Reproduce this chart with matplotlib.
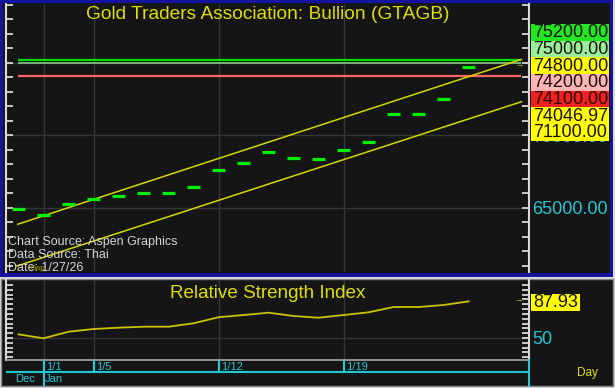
import matplotlib
matplotlib.use("Agg")
import matplotlib.pyplot as plt
from matplotlib.patches import Rectangle
import numpy as np

plt.rcParams['font.family'] = ['Liberation Sans', 'DejaVu Sans']

# ---------------- data ----------------
dates = ['12/31', '1/1', '1/2', '1/5', '1/6', '1/7', '1/8', '1/9', '1/12', '1/13',
         '1/14', '1/15', '1/16', '1/19', '1/20', '1/21', '1/22', '1/23', '1/26']
closes = [64900, 64500, 65250, 65600, 65800, 66000, 66000, 66400, 67600, 68100,
          68850, 68400, 68350, 69000, 69500, 71450, 71450, 72500, 74700]
rsi = [53.8, 49.7, 56.5, 59.3, 60.7, 61.7, 61.7, 65.2, 71.5, 73.8,
       76.2, 72.8, 71.0, 73.8, 76.6, 82.1, 82.1, 84.2, 87.93]
upper_x = [-0.03, 20.06]
upper_y = [63860, 75200]
lower_x = [-0.06, 20.12]
lower_y = [60980, 72310]
level_values = [75200, 75000, 74100]
level_colors = ['#00dd00', '#88c888', '#ff6464']
label_texts = ['75200.00', '75000.00', '74800.00', '74200.00', '74100.00', '74046.97', '71100.00']
label_colors = ['#22e622', '#99ee99', '#ffff00', '#ffb4b4', '#ee2020', '#ffff00', '#ffff00']
price_ticks = [65000, 70000, 75000]
price_tick_labels = ['65000.00', '70000.00', '']
rsi_last_label = '87.93'
week_labels = ['1/1', '1/5', '1/12', '1/19']
week_pos = [1, 3, 8, 13]
month_labels = ['Dec', 'Jan']
month_boundary = 1
sources = ['Chart Source: Aspen Graphics', 'Data Source: Thai', 'Date: 1/27/26']

idx = np.arange(len(closes))

# ---------------- layout helpers (pixels) ----------------
W, H = 615, 388
def rect(x0, y0, x1, y1):
    return [x0 / W, 1 - y1 / H, (x1 - x0) / W, (y1 - y0) / H]

BG = '#151515'
CYAN = '#22c8d4'
YEL = '#dede00'
WHITE = '#d8d8d8'
GRID = '#363636'

fig = plt.figure(figsize=(W / 100, H / 100), dpi=100, facecolor='#dcdcdc')

bg = fig.add_axes([0, 0, 1, 1], zorder=0)
bg.set_xlim(0, W); bg.set_ylim(H, 0); bg.axis('off')
bg.add_patch(Rectangle((0, 0), 613, 276.5, facecolor='#1414a0', edgecolor='none'))
bg.add_patch(Rectangle((2.5, 3), 607, 270, facecolor=BG, edgecolor='none'))
bg.add_patch(Rectangle((0.5, 278.5), 612, 107, facecolor=BG, edgecolor='#8a8a8a', lw=1))

XL = (-0.5, 20.42)

# ---------------- price panel ----------------
ax = fig.add_axes(rect(6, 4, 529, 272), zorder=1)
ax.set_facecolor('none')
ax.set_xlim(*XL)
ax.set_ylim(60566, 79048)
for s in ['top', 'bottom']:
    ax.spines[s].set_visible(False)
for s in ['left', 'right']:
    ax.spines[s].set_color(WHITE); ax.spines[s].set_linewidth(1.5)
ax.set_xticks([])
ax.set_yticks(price_ticks)
ax.set_yticklabels(price_tick_labels)
ax.set_yticks(np.arange(61000, 79001, 1000), minor=True)
ax.yaxis.set_ticks_position('both')
ax.tick_params(axis='y', which='both', direction='in', length=5, width=1.3, color=WHITE,
               labelleft=False, labelright=True, labelcolor=CYAN, labelsize=13, pad=2.5)
for y in price_ticks:
    ax.axhline(y, color=GRID, lw=1, zorder=0)
for x in week_pos:
    ax.axvline(x, color=GRID, lw=1, zorder=0)

ax.hlines(level_values, -0.03, 20.1, colors=level_colors, lw=[1.6, 1.2, 1.6], zorder=2)
ax.plot(upper_x, upper_y, color='#d6d600', lw=1.1, zorder=3)
ax.plot(lower_x, lower_y, color='#d6d600', lw=1.1, zorder=3)
ax.hlines(closes, idx - 0.27, idx + 0.27, colors='#00ee00', lw=2.3, zorder=4)

ax.text(0.5, 0.962, 'Gold Traders Association: Bullion (GTAGB)', transform=ax.transAxes,
        ha='center', va='center', color=YEL, fontsize=13.8)

# ---------------- RSI panel ----------------
ax2 = fig.add_axes(rect(6, 280, 529, 360), zorder=1)
ax2.set_facecolor('none')
ax2.set_xlim(*XL)
ax2.set_ylim(27.2, 110.1)
ax2.spines['top'].set_visible(False)
ax2.spines['bottom'].set_color('#a8a8a8'); ax2.spines['bottom'].set_linewidth(1.2)
for s in ['left', 'right']:
    ax2.spines[s].set_color(WHITE); ax2.spines[s].set_linewidth(1.5)
ax2.set_xticks([])
ax2.set_yticks([50])
ax2.set_yticklabels(['50'])
ax2.set_yticks(np.arange(30, 110, 5), minor=True)
ax2.yaxis.set_ticks_position('both')
ax2.tick_params(axis='y', which='both', direction='in', length=5, width=1.3, color=WHITE,
                labelleft=False, labelright=True, labelcolor=CYAN, labelsize=13, pad=2.5)
ax2.axhline(50, color=GRID, lw=1, zorder=0)
for x in week_pos:
    ax2.axvline(x, color=GRID, lw=1, zorder=0)
ax2.plot(idx, rsi, color='#c8c400', lw=1.3)
ax2.text(0.5, 0.83, 'Relative Strength Index', transform=ax2.transAxes,
         ha='center', va='center', color=YEL, fontsize=13.6)

# ---------------- date axis ----------------
ax3 = fig.add_axes(rect(6, 360, 529, 386), zorder=1)
ax3.set_facecolor('none')
ax3.set_xlim(*XL)
ax3.set_ylim(1, 0)
ax3.set_xticks([]); ax3.set_yticks([])
for s in ['top', 'bottom', 'left']:
    ax3.spines[s].set_visible(False)
ax3.spines['right'].set_color(CYAN); ax3.spines['right'].set_linewidth(1.5)
ax3.axhline(0.46, color=CYAN, lw=1.5)
for x, lab in zip(week_pos, week_labels):
    ymax = 1 if x == month_boundary else 0.46
    ax3.plot([x, x], [0, ymax], color=CYAN, lw=1.5)
    ax3.text(x + 0.1, 0.25, lab, color=CYAN, fontsize=8, ha='left', va='center')
ax3.text((XL[0] + month_boundary) / 2, 0.73, month_labels[0], color=CYAN, fontsize=8,
         ha='center', va='center')
ax3.text(month_boundary + 0.05, 0.73, month_labels[1], color=CYAN, fontsize=8,
         ha='left', va='center')

# ---------------- overlay (labels, notes) ----------------
ov = fig.add_axes([0, 0, 1, 1], zorder=3)
ov.set_facecolor('none')
ov.set_xlim(0, W); ov.set_ylim(H, 0); ov.axis('off')
top = 24.0
bh = 16.67
for i, (t, c) in enumerate(zip(label_texts, label_colors)):
    y0 = top + i * bh
    ov.add_patch(Rectangle((531, y0), 78, bh, facecolor=c, edgecolor='none'))
    ov.text(533, y0 + bh / 2 + 0.5, t, color='#1a1010' if c != '#ee2020' else '#300000',
            fontsize=13, ha='left', va='center')
ov.add_patch(Rectangle((531, 294), 49, 16.5, facecolor='#ffff00', edgecolor='none'))
ov.text(533, 302.5, rsi_last_label, color='#1a1010', fontsize=13, ha='left', va='center')

for y in [60, 66]:
    ov.text(519, y, '\u2192', color=YEL, fontsize=6, ha='center', va='center')
ov.text(518, 301, '\u2192', color=YEL, fontsize=6, ha='center', va='center')

for k, s in enumerate(sources):
    ov.text(8, 241.7 + k * 13, s, color='#d4d4d4', fontsize=9, ha='left', va='center')
ov.text(30, 268.5, 'Gap', color='#9a9a00', fontsize=6, ha='left', va='center')
ov.text(587.5, 373, 'Day', color=YEL, fontsize=8.5, ha='center', va='center')

fig.savefig('out.png', dpi=100, facecolor=fig.get_facecolor())
